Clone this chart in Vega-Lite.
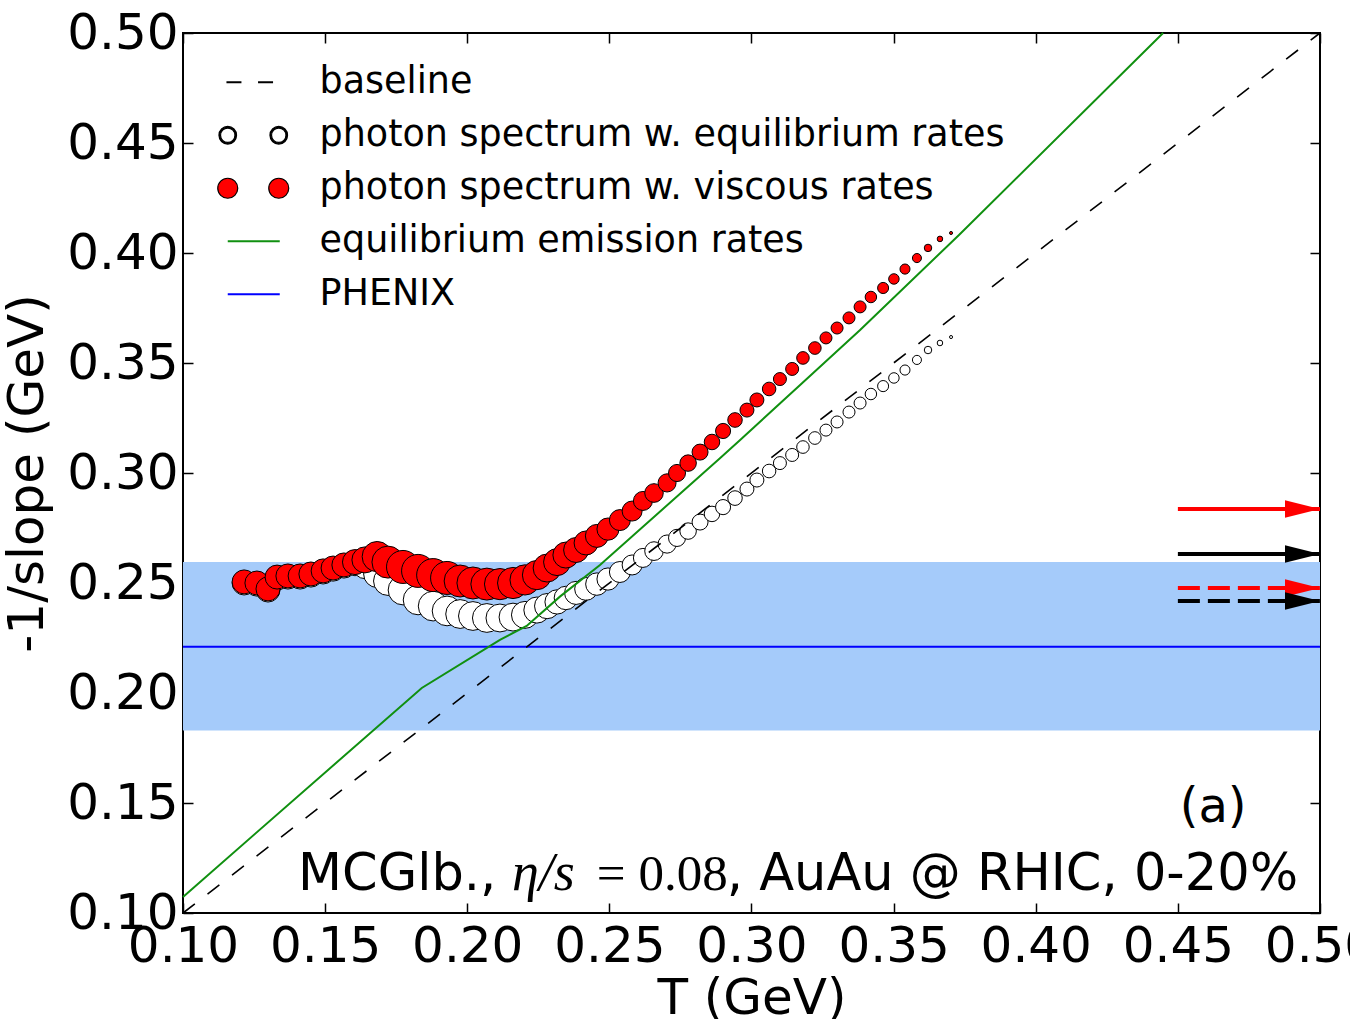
{
  "$schema": "https://vega.github.io/schema/vega-lite/v6.json",
  "width": 1137,
  "height": 880,
  "autosize": "none",
  "padding": {"left": 183, "top": 33, "right": 30, "bottom": 106},
  "background": "white",
  "datasets": {
    "band": [{"T": 0.1, "T2": 0.5, "lo": 0.183, "hi": 0.2595}],
    "curves": [
      {"series": "phenix", "T": 0.1, "v": 0.221}, {"series": "phenix", "T": 0.5, "v": 0.221},
      {"series": "base", "T": 0.1, "v": 0.1}, {"series": "base", "T": 0.5, "v": 0.5},
      {"series": "green", "T": 0.1, "v": 0.1073}, {"series": "green", "T": 0.184, "v": 0.2023},
      {"series": "green", "T": 0.2115, "v": 0.2241}, {"series": "green", "T": 0.2209, "v": 0.2305},
      {"series": "green", "T": 0.2326, "v": 0.2438}, {"series": "green", "T": 0.2467, "v": 0.2582},
      {"series": "green", "T": 0.2889, "v": 0.3067}, {"series": "green", "T": 0.296, "v": 0.315},
      {"series": "green", "T": 0.3171, "v": 0.34}, {"series": "green", "T": 0.3382, "v": 0.365},
      {"series": "green", "T": 0.373, "v": 0.4082}, {"series": "green", "T": 0.4448, "v": 0.5}
    ],
    "pts": [
      {"series": "eq", "T": 0.1215, "v": 0.2500, "w": 0.727}, {"series": "eq", "T": 0.1260, "v": 0.2495, "w": 0.727},
      {"series": "eq", "T": 0.1299, "v": 0.2468, "w": 0.727}, {"series": "eq", "T": 0.1331, "v": 0.2522, "w": 0.727},
      {"series": "eq", "T": 0.1369, "v": 0.2527, "w": 0.727}, {"series": "eq", "T": 0.1412, "v": 0.2527, "w": 0.727},
      {"series": "eq", "T": 0.1450, "v": 0.2536, "w": 0.727}, {"series": "eq", "T": 0.1493, "v": 0.2550, "w": 0.727},
      {"series": "eq", "T": 0.1528, "v": 0.2563, "w": 0.727}, {"series": "eq", "T": 0.1566, "v": 0.2577, "w": 0.727},
      {"series": "eq", "T": 0.1605, "v": 0.2590, "w": 0.758}, {"series": "eq", "T": 0.1640, "v": 0.2573, "w": 0.71},
      {"series": "eq", "T": 0.1683, "v": 0.2541, "w": 0.82}, {"series": "eq", "T": 0.1721, "v": 0.2509, "w": 0.873},
      {"series": "eq", "T": 0.1774, "v": 0.2468, "w": 0.9}, {"series": "eq", "T": 0.1827, "v": 0.2423, "w": 0.9},
      {"series": "eq", "T": 0.1880, "v": 0.2395, "w": 0.9}, {"series": "eq", "T": 0.1929, "v": 0.2373, "w": 0.9},
      {"series": "eq", "T": 0.1975, "v": 0.2359, "w": 0.873}, {"series": "eq", "T": 0.2020, "v": 0.2350, "w": 0.873},
      {"series": "eq", "T": 0.2069, "v": 0.2341, "w": 0.873}, {"series": "eq", "T": 0.2115, "v": 0.2341, "w": 0.845},
      {"series": "eq", "T": 0.2161, "v": 0.2345, "w": 0.845}, {"series": "eq", "T": 0.2203, "v": 0.2355, "w": 0.818},
      {"series": "eq", "T": 0.2245, "v": 0.2377, "w": 0.79}, {"series": "eq", "T": 0.2281, "v": 0.2395, "w": 0.763},
      {"series": "eq", "T": 0.2316, "v": 0.2414, "w": 0.736}, {"series": "eq", "T": 0.2347, "v": 0.2432, "w": 0.71},
      {"series": "eq", "T": 0.2383, "v": 0.2455, "w": 0.7}, {"series": "eq", "T": 0.2418, "v": 0.2473, "w": 0.69},
      {"series": "eq", "T": 0.2456, "v": 0.2495, "w": 0.68}, {"series": "eq", "T": 0.2495, "v": 0.2518, "w": 0.667},
      {"series": "eq", "T": 0.2537, "v": 0.2550, "w": 0.636}, {"series": "eq", "T": 0.2580, "v": 0.2582, "w": 0.606},
      {"series": "eq", "T": 0.2618, "v": 0.2614, "w": 0.576}, {"series": "eq", "T": 0.2657, "v": 0.2645, "w": 0.561},
      {"series": "eq", "T": 0.2703, "v": 0.2677, "w": 0.545}, {"series": "eq", "T": 0.2738, "v": 0.2705, "w": 0.515},
      {"series": "eq", "T": 0.2777, "v": 0.2736, "w": 0.5}, {"series": "eq", "T": 0.2819, "v": 0.2777, "w": 0.485},
      {"series": "eq", "T": 0.2861, "v": 0.2814, "w": 0.47}, {"series": "eq", "T": 0.2900, "v": 0.2845, "w": 0.455},
      {"series": "eq", "T": 0.2942, "v": 0.2886, "w": 0.439}, {"series": "eq", "T": 0.2984, "v": 0.2927, "w": 0.424},
      {"series": "eq", "T": 0.3019, "v": 0.2968, "w": 0.424}, {"series": "eq", "T": 0.3062, "v": 0.3009, "w": 0.409},
      {"series": "eq", "T": 0.3100, "v": 0.3045, "w": 0.394}, {"series": "eq", "T": 0.3143, "v": 0.3082, "w": 0.394},
      {"series": "eq", "T": 0.3181, "v": 0.3118, "w": 0.379}, {"series": "eq", "T": 0.3223, "v": 0.3159, "w": 0.379},
      {"series": "eq", "T": 0.3262, "v": 0.3195, "w": 0.364}, {"series": "eq", "T": 0.3301, "v": 0.3232, "w": 0.364},
      {"series": "eq", "T": 0.3343, "v": 0.3277, "w": 0.364}, {"series": "eq", "T": 0.3382, "v": 0.3318, "w": 0.364},
      {"series": "eq", "T": 0.3420, "v": 0.3359, "w": 0.348}, {"series": "eq", "T": 0.3463, "v": 0.3395, "w": 0.333},
      {"series": "eq", "T": 0.3501, "v": 0.3432, "w": 0.318}, {"series": "eq", "T": 0.3540, "v": 0.3468, "w": 0.303},
      {"series": "eq", "T": 0.3582, "v": 0.3514, "w": 0.273}, {"series": "eq", "T": 0.3621, "v": 0.3559, "w": 0.227},
      {"series": "eq", "T": 0.3663, "v": 0.3591, "w": 0.167}, {"series": "eq", "T": 0.3702, "v": 0.3618, "w": 0.091},
      {"series": "visc", "T": 0.1215, "v": 0.2505, "w": 0.727}, {"series": "visc", "T": 0.1260, "v": 0.2500, "w": 0.727},
      {"series": "visc", "T": 0.1299, "v": 0.2473, "w": 0.727}, {"series": "visc", "T": 0.1331, "v": 0.2527, "w": 0.727},
      {"series": "visc", "T": 0.1369, "v": 0.2532, "w": 0.727}, {"series": "visc", "T": 0.1412, "v": 0.2532, "w": 0.727},
      {"series": "visc", "T": 0.1450, "v": 0.2541, "w": 0.727}, {"series": "visc", "T": 0.1493, "v": 0.2555, "w": 0.727},
      {"series": "visc", "T": 0.1528, "v": 0.2568, "w": 0.727}, {"series": "visc", "T": 0.1566, "v": 0.2582, "w": 0.727},
      {"series": "visc", "T": 0.1605, "v": 0.2595, "w": 0.758}, {"series": "visc", "T": 0.1640, "v": 0.2605, "w": 0.788},
      {"series": "visc", "T": 0.1683, "v": 0.2620, "w": 0.909}, {"series": "visc", "T": 0.1721, "v": 0.2595, "w": 0.970},
      {"series": "visc", "T": 0.1774, "v": 0.2573, "w": 1.0}, {"series": "visc", "T": 0.1827, "v": 0.2555, "w": 1.0},
      {"series": "visc", "T": 0.1880, "v": 0.2536, "w": 1.0}, {"series": "visc", "T": 0.1929, "v": 0.2523, "w": 1.0},
      {"series": "visc", "T": 0.1975, "v": 0.2509, "w": 0.970}, {"series": "visc", "T": 0.2020, "v": 0.2500, "w": 0.970},
      {"series": "visc", "T": 0.2069, "v": 0.2495, "w": 0.970}, {"series": "visc", "T": 0.2115, "v": 0.2495, "w": 0.939},
      {"series": "visc", "T": 0.2161, "v": 0.2500, "w": 0.939}, {"series": "visc", "T": 0.2203, "v": 0.2514, "w": 0.909},
      {"series": "visc", "T": 0.2245, "v": 0.2536, "w": 0.879}, {"series": "visc", "T": 0.2281, "v": 0.2568, "w": 0.848},
      {"series": "visc", "T": 0.2316, "v": 0.2595, "w": 0.818}, {"series": "visc", "T": 0.2347, "v": 0.2627, "w": 0.788},
      {"series": "visc", "T": 0.2383, "v": 0.2650, "w": 0.758}, {"series": "visc", "T": 0.2418, "v": 0.2682, "w": 0.727},
      {"series": "visc", "T": 0.2456, "v": 0.2714, "w": 0.697}, {"series": "visc", "T": 0.2495, "v": 0.2745, "w": 0.667},
      {"series": "visc", "T": 0.2537, "v": 0.2786, "w": 0.636}, {"series": "visc", "T": 0.2580, "v": 0.2827, "w": 0.606},
      {"series": "visc", "T": 0.2618, "v": 0.2873, "w": 0.576}, {"series": "visc", "T": 0.2657, "v": 0.2909, "w": 0.561},
      {"series": "visc", "T": 0.2703, "v": 0.2955, "w": 0.545}, {"series": "visc", "T": 0.2738, "v": 0.3000, "w": 0.515},
      {"series": "visc", "T": 0.2777, "v": 0.3045, "w": 0.5}, {"series": "visc", "T": 0.2819, "v": 0.3095, "w": 0.485},
      {"series": "visc", "T": 0.2861, "v": 0.3141, "w": 0.47}, {"series": "visc", "T": 0.2900, "v": 0.3191, "w": 0.455},
      {"series": "visc", "T": 0.2942, "v": 0.3241, "w": 0.439}, {"series": "visc", "T": 0.2984, "v": 0.3286, "w": 0.424},
      {"series": "visc", "T": 0.3019, "v": 0.3332, "w": 0.424}, {"series": "visc", "T": 0.3062, "v": 0.3382, "w": 0.409},
      {"series": "visc", "T": 0.3100, "v": 0.3427, "w": 0.394}, {"series": "visc", "T": 0.3143, "v": 0.3473, "w": 0.394},
      {"series": "visc", "T": 0.3181, "v": 0.3523, "w": 0.379}, {"series": "visc", "T": 0.3223, "v": 0.3568, "w": 0.379},
      {"series": "visc", "T": 0.3262, "v": 0.3614, "w": 0.364}, {"series": "visc", "T": 0.3301, "v": 0.3659, "w": 0.364},
      {"series": "visc", "T": 0.3343, "v": 0.3705, "w": 0.364}, {"series": "visc", "T": 0.3382, "v": 0.3755, "w": 0.364},
      {"series": "visc", "T": 0.3420, "v": 0.3800, "w": 0.348}, {"series": "visc", "T": 0.3463, "v": 0.3841, "w": 0.333},
      {"series": "visc", "T": 0.3501, "v": 0.3882, "w": 0.318}, {"series": "visc", "T": 0.3540, "v": 0.3927, "w": 0.303},
      {"series": "visc", "T": 0.3582, "v": 0.3977, "w": 0.273}, {"series": "visc", "T": 0.3621, "v": 0.4023, "w": 0.227},
      {"series": "visc", "T": 0.3663, "v": 0.4064, "w": 0.167}, {"series": "visc", "T": 0.3702, "v": 0.4091, "w": 0.091}
    ],
    "arrows": [
      {"series": "visc", "style": "solid", "T": 0.45, "T2": 0.5, "v": 0.2836},
      {"series": "eq", "style": "solid", "T": 0.45, "T2": 0.5, "v": 0.2632},
      {"series": "visc", "style": "dashed", "T": 0.45, "T2": 0.5, "v": 0.2477},
      {"series": "eq", "style": "dashed", "T": 0.45, "T2": 0.5, "v": 0.2418}
    ],
    "notes": [
      {"part": "sansL", "T": 0.1405, "v": 0.1105, "text": "MCGlb.,"},
      {"part": "mathI", "T": 0.2157, "v": 0.1105, "text": "η/s"},
      {"part": "math", "T": 0.2456, "v": 0.1105, "text": "= 0.08"},
      {"part": "sansR", "T": 0.4923, "v": 0.1105, "text": ", AuAu @ RHIC, 0-20%"},
      {"part": "tag", "T": 0.4624, "v": 0.1477, "text": "(a)"}
    ],
    "legend": [
      {"label": "baseline"},
      {"label": "photon spectrum w. equilibrium rates"},
      {"label": "photon spectrum w. viscous rates"},
      {"label": "equilibrium emission rates"},
      {"label": "PHENIX"}
    ]
  },
  "layer": [
    {
      "data": {"name": "band"},
      "mark": {"type": "rect", "color": "#a5cbfa", "opacity": 1},
      "encoding": {
        "x": {"field": "T", "type": "quantitative", "scale": {"domain": [0.1, 0.5], "nice": false, "zero": false},
          "axis": {"orient": "bottom", "values": [0.1, 0.15, 0.2, 0.25, 0.3, 0.35, 0.4, 0.45, 0.5], "format": ".2f",
            "title": "T (GeV)", "titleFont": "DejaVu Sans", "titleFontSize": 50, "titleFontWeight": "normal", "titleColor": "black", "titlePadding": 2,
            "labelFont": "DejaVu Sans", "labelFontSize": 50, "labelColor": "black", "labelPadding": 18, "labelFlush": false, "labelOverlap": false, "labelBound": false,
            "tickSize": -10, "tickColor": "black", "tickWidth": 1.5, "domain": false, "grid": false}},
        "x2": {"field": "T2"},
        "y": {"field": "lo", "type": "quantitative", "scale": {"domain": [0.1, 0.5], "nice": false, "zero": false},
          "axis": {"orient": "left", "values": [0.1, 0.15, 0.2, 0.25, 0.3, 0.35, 0.4, 0.45, 0.5], "format": ".2f",
            "title": "-1/slope (GeV)", "titleFont": "DejaVu Sans", "titleFontSize": 50, "titleFontWeight": "normal", "titleColor": "black", "titlePadding": 14,
            "labelFont": "DejaVu Sans", "labelFontSize": 50, "labelColor": "black", "labelPadding": 15, "labelFlush": false, "labelOverlap": false, "labelBound": false,
            "tickSize": -10, "tickColor": "black", "tickWidth": 1.5, "domain": false, "grid": false}},
        "y2": {"field": "hi"}
      }
    },
    {
      "data": {"name": "curves"},
      "transform": [{"filter": "datum.series === 'phenix'"}],
      "mark": {"type": "line", "color": "#0000ff", "strokeWidth": 2},
      "encoding": {
        "x": {"field": "T", "type": "quantitative", "scale": {"domain": [0.1, 0.5], "nice": false, "zero": false},
          "axis": {"orient": "top", "values": [0.1, 0.15, 0.2, 0.25, 0.3, 0.35, 0.4, 0.45, 0.5], "labels": false, "title": null,
            "tickSize": -10, "tickColor": "black", "tickWidth": 1.5, "domain": false, "grid": false}},
        "y": {"field": "v", "type": "quantitative", "scale": {"domain": [0.1, 0.5], "nice": false, "zero": false},
          "axis": {"orient": "right", "values": [0.1, 0.15, 0.2, 0.25, 0.3, 0.35, 0.4, 0.45, 0.5], "labels": false, "title": null,
            "tickSize": -10, "tickColor": "black", "tickWidth": 1.5, "domain": false, "grid": false}}
      }
    },
    {
      "data": {"name": "pts"},
      "transform": [{"filter": "datum.series === 'eq'"}],
      "mark": {"type": "point", "shape": "circle", "filled": true, "fill": "white", "stroke": "black", "strokeWidth": 1, "opacity": 1},
      "encoding": {
        "x": {"field": "T", "type": "quantitative", "scale": {"domain": [0.1, 0.5], "nice": false, "zero": false}, "axis": null},
        "y": {"field": "v", "type": "quantitative", "scale": {"domain": [0.1, 0.5], "nice": false, "zero": false}, "axis": null},
        "size": {"field": "w", "type": "quantitative", "scale": {"type": "pow", "exponent": 2, "domain": [0, 1], "range": [0, 1089]}, "legend": null}
      }
    },
    {
      "data": {"name": "pts"},
      "transform": [{"filter": "datum.series === 'visc'"}],
      "mark": {"type": "point", "shape": "circle", "filled": true, "fill": "#ff0000", "stroke": "black", "strokeWidth": 1, "opacity": 1},
      "encoding": {
        "x": {"field": "T", "type": "quantitative", "scale": {"domain": [0.1, 0.5], "nice": false, "zero": false}, "axis": null},
        "y": {"field": "v", "type": "quantitative", "scale": {"domain": [0.1, 0.5], "nice": false, "zero": false}, "axis": null},
        "size": {"field": "w", "type": "quantitative", "scale": {"type": "pow", "exponent": 2, "domain": [0, 1], "range": [0, 1089]}, "legend": null}
      }
    },
    {
      "data": {"name": "curves"},
      "transform": [{"filter": "datum.series === 'base'"}],
      "mark": {"type": "line", "color": "black", "strokeWidth": 1.6, "strokeDash": [15, 16]},
      "encoding": {
        "x": {"field": "T", "type": "quantitative", "scale": {"domain": [0.1, 0.5], "nice": false, "zero": false}, "axis": null},
        "y": {"field": "v", "type": "quantitative", "scale": {"domain": [0.1, 0.5], "nice": false, "zero": false}, "axis": null}
      }
    },
    {
      "data": {"name": "curves"},
      "transform": [{"filter": "datum.series === 'green'"}],
      "mark": {"type": "line", "color": "#109010", "strokeWidth": 2},
      "encoding": {
        "x": {"field": "T", "type": "quantitative", "scale": {"domain": [0.1, 0.5], "nice": false, "zero": false}, "axis": null},
        "y": {"field": "v", "type": "quantitative", "scale": {"domain": [0.1, 0.5], "nice": false, "zero": false}, "axis": null}
      }
    },
    {
      "data": {"name": "arrows"},
      "mark": {"type": "rule", "strokeWidth": 4},
      "encoding": {
        "x": {"field": "T", "type": "quantitative", "scale": {"domain": [0.1, 0.5], "nice": false, "zero": false}, "axis": null},
        "x2": {"field": "T2"},
        "y": {"field": "v", "type": "quantitative", "scale": {"domain": [0.1, 0.5], "nice": false, "zero": false}, "axis": null},
        "color": {"field": "series", "type": "nominal", "scale": {"domain": ["visc", "eq"], "range": ["#ff0000", "black"]}, "legend": null},
        "strokeDash": {"field": "style", "type": "nominal", "scale": {"domain": ["solid", "dashed"], "range": [[1, 0], [22, 8]]}, "legend": null}
      }
    },
    {
      "data": {"name": "arrows"},
      "mark": {"type": "point", "shape": "M -2 -0.5 L 0 0 L -2 0.5 Z", "size": 1225, "filled": true, "opacity": 1, "strokeWidth": 0},
      "encoding": {
        "x": {"field": "T2", "type": "quantitative", "scale": {"domain": [0.1, 0.5], "nice": false, "zero": false}, "axis": null},
        "y": {"field": "v", "type": "quantitative", "scale": {"domain": [0.1, 0.5], "nice": false, "zero": false}, "axis": null},
        "color": {"field": "series", "type": "nominal", "scale": {"domain": ["visc", "eq"], "range": ["#ff0000", "black"]}, "legend": null}
      }
    },
    {
      "data": {"name": "notes"},
      "transform": [{"filter": "datum.part === 'sansL'"}],
      "mark": {"type": "text", "font": "DejaVu Sans", "fontSize": 51, "align": "left", "baseline": "alphabetic", "color": "black"},
      "encoding": {
        "x": {"field": "T", "type": "quantitative", "scale": {"domain": [0.1, 0.5], "nice": false, "zero": false}, "axis": null},
        "y": {"field": "v", "type": "quantitative", "scale": {"domain": [0.1, 0.5], "nice": false, "zero": false}, "axis": null},
        "text": {"field": "text"}
      }
    },
    {
      "data": {"name": "notes"},
      "transform": [{"filter": "datum.part === 'mathI'"}],
      "mark": {"type": "text", "font": "Liberation Serif", "fontStyle": "italic", "fontSize": 54, "align": "left", "baseline": "alphabetic", "color": "black"},
      "encoding": {
        "x": {"field": "T", "type": "quantitative", "scale": {"domain": [0.1, 0.5], "nice": false, "zero": false}, "axis": null},
        "y": {"field": "v", "type": "quantitative", "scale": {"domain": [0.1, 0.5], "nice": false, "zero": false}, "axis": null},
        "text": {"field": "text"}
      }
    },
    {
      "data": {"name": "notes"},
      "transform": [{"filter": "datum.part === 'math'"}],
      "mark": {"type": "text", "font": "Liberation Serif", "fontSize": 51, "align": "left", "baseline": "alphabetic", "color": "black"},
      "encoding": {
        "x": {"field": "T", "type": "quantitative", "scale": {"domain": [0.1, 0.5], "nice": false, "zero": false}, "axis": null},
        "y": {"field": "v", "type": "quantitative", "scale": {"domain": [0.1, 0.5], "nice": false, "zero": false}, "axis": null},
        "text": {"field": "text"}
      }
    },
    {
      "data": {"name": "notes"},
      "transform": [{"filter": "datum.part === 'sansR'"}],
      "mark": {"type": "text", "font": "DejaVu Sans", "fontSize": 51, "align": "right", "baseline": "alphabetic", "color": "black"},
      "encoding": {
        "x": {"field": "T", "type": "quantitative", "scale": {"domain": [0.1, 0.5], "nice": false, "zero": false}, "axis": null},
        "y": {"field": "v", "type": "quantitative", "scale": {"domain": [0.1, 0.5], "nice": false, "zero": false}, "axis": null},
        "text": {"field": "text"}
      }
    },
    {
      "data": {"name": "notes"},
      "transform": [{"filter": "datum.part === 'tag'"}],
      "mark": {"type": "text", "font": "DejaVu Sans", "fontSize": 48, "align": "center", "baseline": "middle", "color": "black"},
      "encoding": {
        "x": {"field": "T", "type": "quantitative", "scale": {"domain": [0.1, 0.5], "nice": false, "zero": false}, "axis": null},
        "y": {"field": "v", "type": "quantitative", "scale": {"domain": [0.1, 0.5], "nice": false, "zero": false}, "axis": null},
        "text": {"field": "text"}
      }
    },
    {
      "data": {"name": "legend"},
      "mark": {"type": "point", "size": 0, "opacity": 1},
      "encoding": {
        "fill": {"field": "label", "type": "nominal",
          "scale": {"domain": ["baseline", "photon spectrum w. equilibrium rates", "photon spectrum w. viscous rates", "equilibrium emission rates", "PHENIX"],
            "range": ["transparent", "black", "#ff0000", "transparent", "transparent"]},
          "legend": {"orient": "none", "legendX": 52, "legendY": 31, "title": null, "padding": 0, "rowPadding": 16, "labelOffset": 48,
            "labelFont": "DejaVu Sans", "labelFontSize": 36.5, "labelColor": "black", "labelLimit": 2000, "symbolSize": 400, "symbolStrokeWidth": 1.2}},
        "stroke": {"field": "label", "type": "nominal",
          "scale": {"domain": ["baseline", "photon spectrum w. equilibrium rates", "photon spectrum w. viscous rates", "equilibrium emission rates", "PHENIX"],
            "range": ["black", "black", "black", "#109010", "#0000ff"]}},
        "shape": {"field": "label", "type": "nominal",
          "scale": {"domain": ["baseline", "photon spectrum w. equilibrium rates", "photon spectrum w. viscous rates", "equilibrium emission rates", "PHENIX"],
            "range": [
              "M -2.68 -0.05 L -1.18 -0.05 M -2.68 0.05 L -1.18 0.05 M 0.48 -0.05 L 1.98 -0.05 M 0.48 0.05 L 1.98 0.05",
              "M -3.43 0 A 0.88 0.88 0 1 1 -1.67 0 A 0.88 0.88 0 1 1 -3.43 0 Z M -3.27 0 A 0.72 0.72 0 1 0 -1.83 0 A 0.72 0.72 0 1 0 -3.27 0 Z M 1.67 0 A 0.88 0.88 0 1 1 3.43 0 A 0.88 0.88 0 1 1 1.67 0 Z M 1.83 0 A 0.72 0.72 0 1 0 3.27 0 A 0.72 0.72 0 1 0 1.83 0 Z",
              "M -3.55 0 A 1 1 0 1 1 -1.55 0 A 1 1 0 1 1 -3.55 0 Z M 1.55 0 A 1 1 0 1 1 3.55 0 A 1 1 0 1 1 1.55 0 Z",
              "M -2.55 -0.05 L 2.65 -0.05 M -2.55 0.05 L 2.65 0.05",
              "M -2.55 -0.05 L 2.65 -0.05 M -2.55 0.05 L 2.65 0.05"
            ]}}
      }
    }
  ],
  "resolve": {"axis": {"x": "independent", "y": "independent"}},
  "config": {
    "view": {"stroke": "black", "strokeWidth": 2},
    "font": "DejaVu Sans",
    "axis": {"grid": false}
  }
}
